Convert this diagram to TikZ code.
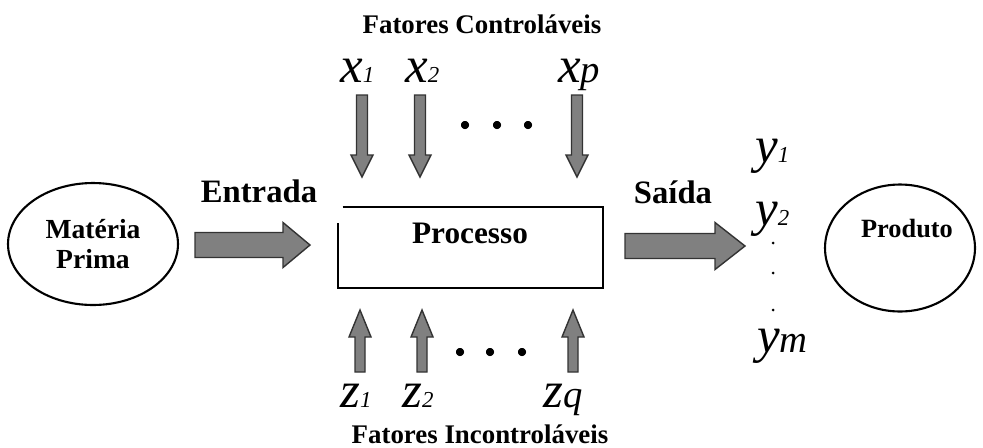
\documentclass[tikz,border=0pt]{standalone}
\usepackage{fontspec}
\setmainfont{Liberation Serif}
\usetikzlibrary{shapes.geometric}

\tikzset{
  oval/.style={ellipse, draw, line width=1.2pt, inner sep=0pt},
  arrowfill/.style={draw=black!80, fill=black!50, line width=0.8pt, line join=miter},
  headtxt/.style={font=\fontsize{15.3}{17}\selectfont\bfseries, anchor=base},
  flowtxt/.style={font=\fontsize{18.6}{20}\selectfont\bfseries, anchor=base},
  varlab/.style={anchor=base west, inner sep=0pt}
}
\newcommand{\fvar}[3][13]{{\fontsize{29}{30}\selectfont\itshape #2}{\fontsize{#1}{#1}\selectfont\itshape #3}}
% #1 tail, #2 angle, #3 length, #4 half shaft, #5 half head, #6 head length
\newcommand{\fatarrow}[6]{%
  \filldraw[arrowfill, shift={#1}, rotate=#2] (0,-#4) -- (#3-#6,-#4) -- (#3-#6,-#5) -- (#3,0)
      -- (#3-#6,#5) -- (#3-#6,#4) -- (0,#4) -- cycle;}

\begin{document}
\begin{tikzpicture}[x=0.02cm, y=-0.02cm]
    \useasboundingbox (0,0) rectangle (983,447);

    % blocks
    \node[oval, minimum width=3.4cm, minimum height=2.44cm, align=center,
          font=\fontsize{15.7}{17.5}\selectfont\bfseries] (materia) at (93,244) {Matéria\\Prima};
    \node[minimum width=5.3cm, minimum height=1.62cm, inner sep=0pt] (proc) at (470.5,247.5) {};
    \draw[line width=1.1pt] ([xshift=0.1cm]proc.north west) -- (proc.north east) -- (proc.south east)
        -- (proc.south west) -- ([yshift=-0.32cm]proc.north west);
    \node[font=\fontsize{17.8}{19}\selectfont\bfseries, anchor=base] (proctxt) at (470,243) {Processo};
    \node[oval, minimum width=3.0cm, minimum height=2.54cm] (produto) at (900,248) {};
    \node[font=\fontsize{15}{17}\selectfont\bfseries, anchor=base] (prodtxt) at (907,237) {Produto};

    % main flow
    \fatarrow{(195,245)}{0}{115}{12.5}{22.5}{27}
    \node[flowtxt] (entrada) at (259,202) {Entrada};
    \fatarrow{(625,246)}{0}{120}{12.5}{23.5}{30}
    \node[flowtxt] (saida) at (673,203) {Saída};

    % controllable factors
    \node[headtxt] (ctrl) at (482,33) {Fatores Controláveis};
    \node[varlab] (x1) at (340,82) {\fvar{x}{1}};
    \node[varlab] (x2) at (405,82) {\fvar{x}{2}};
    \node[varlab] (xp) at (558,82) {\fvar[22]{x}{p}};
    \foreach \px in {362,420,577}
        \fatarrow{(\px,95)}{-90}{82}{5.5}{11}{22}
    \foreach \px in {465,497,528}
        \fill (\px,125) circle[radius=0.08cm];

    % uncontrollable factors
    \foreach \px in {360,422,573}
        \fatarrow{(\px,372)}{90}{62}{5}{11}{27}
    \foreach \px in {460,490,522}
        \fill (\px,352) circle[radius=0.08cm];
    \node[varlab] (z1) at (340,407) {\fvar{z}{1}};
    \node[varlab] (z2) at (402,407) {\fvar{z}{2}};
    \node[varlab] (zq) at (543,407) {\fvar[22]{z}{q}};
    \node[headtxt] (unctrl) at (480,443) {Fatores Incontroláveis};

    % responses
    \node[varlab] (y1) at (755,162) {\fvar{y}{1}};
    \node[varlab] (y2) at (755,225) {\fvar{y}{2}};
    \foreach \py in {243,273,310}
        \fill (773,\py) circle[radius=0.03cm];
    \node[varlab] (ym) at (757,352) {\fvar[22]{y}{m}};

\end{tikzpicture}
\end{document}
